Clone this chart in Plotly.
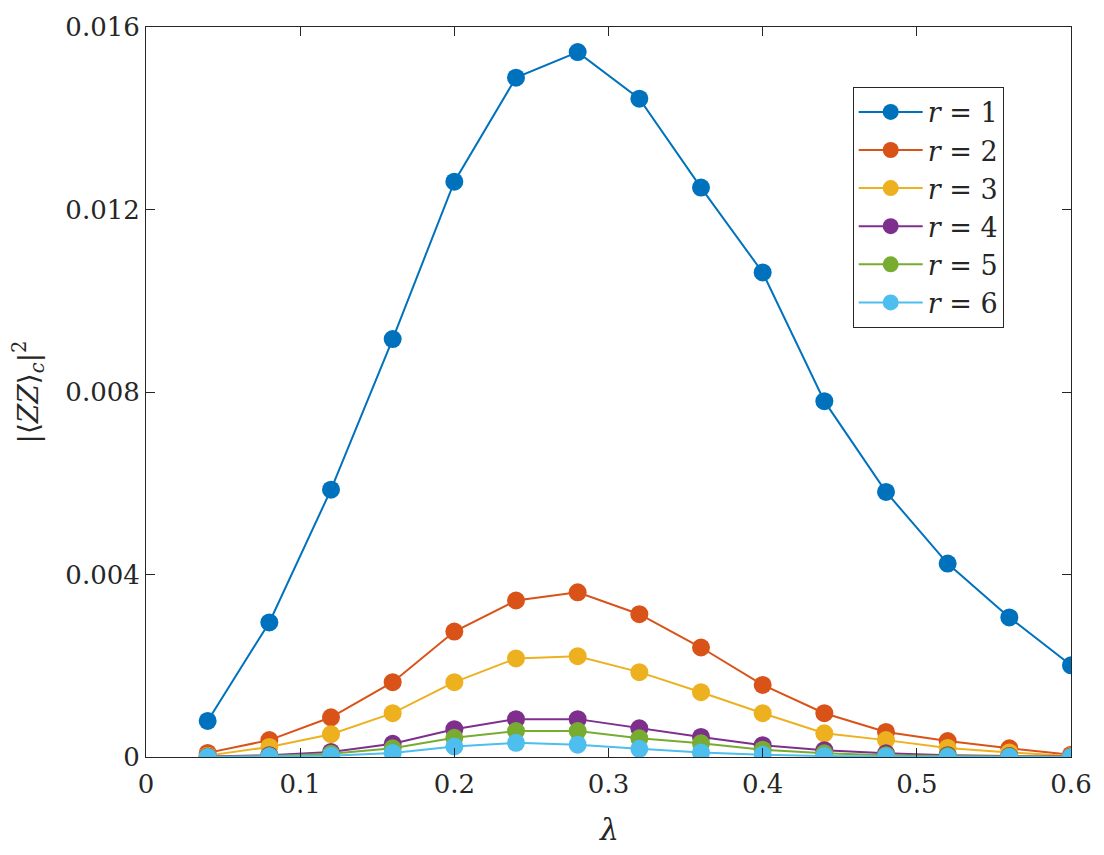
import plotly.graph_objects as go

lam = [0.04, 0.08, 0.12, 0.16, 0.20, 0.24, 0.28, 0.32, 0.36, 0.40, 0.44, 0.48, 0.52, 0.56, 0.60]

r1 = [0.00079, 0.00295, 0.00586, 0.00916, 0.01261, 0.01489, 0.01545, 0.01443, 0.01248, 0.01062, 0.00780, 0.00581, 0.00424, 0.00306, 0.00201]
r2 = [0.00009, 0.00037, 0.00087, 0.00164, 0.00275, 0.00343, 0.00361, 0.00313, 0.00240, 0.00158, 0.00096, 0.00055, 0.00035, 0.00019, 0.00005]
r3 = [0.00003, 0.00022, 0.00050, 0.00096, 0.00164, 0.00216, 0.00221, 0.00186, 0.00142, 0.00096, 0.00052, 0.00037, 0.00020, 0.00010, 0.00002]
r4 = [0.00001, 0.00004, 0.00011, 0.00029, 0.00061, 0.00083, 0.00083, 0.00063, 0.00044, 0.00026, 0.00015, 0.00008, 0.00004, 0.00002, 0.00001]
r5 = [0.00000, 0.00002, 0.00007, 0.00019, 0.00042, 0.00057, 0.00057, 0.00041, 0.00030, 0.00016, 0.00008, 0.00004, 0.00002, 0.00001, 0.00000]
r6 = [0.00000, 0.00001, 0.00003, 0.00009, 0.00023, 0.00031, 0.00027, 0.00018, 0.00010, 0.00005, 0.00002, 0.00001, 0.00000, 0.00000, 0.00000]

series = [r1, r2, r3, r4, r5, r6]
names = ["<i>r</i> = 1", "<i>r</i> = 2", "<i>r</i> = 3", "<i>r</i> = 4", "<i>r</i> = 5", "<i>r</i> = 6"]
colors = ["#0072BD", "#D95319", "#EDB120", "#7E2F8E", "#77AC30", "#4DBEEE"]

x_ticks = [0, 0.1, 0.2, 0.3, 0.4, 0.5, 0.6]
x_ticklabels = ["0", "0.1", "0.2", "0.3", "0.4", "0.5", "0.6"]
y_ticks = [0, 0.004, 0.008, 0.012, 0.016]
y_ticklabels = ["0", "0.004", "0.008", "0.012", "0.016"]

FONT = "DejaVu Serif"

fig = go.Figure()
for ys, nm, c in zip(series, names, colors):
    fig.add_trace(go.Scatter(
        x=lam, y=ys, name=nm, mode="lines+markers",
        line=dict(color=c, width=2),
        marker=dict(color=c, size=18, line=dict(width=0)),
    ))

axis_common = dict(
    showline=True, linecolor="#262626", linewidth=1,
    mirror="ticks", ticks="inside", ticklen=9, tickcolor="#262626", tickwidth=1,
    showgrid=False, zeroline=False,
    tickfont=dict(family=FONT, size=26, color="#262626"),
)

fig.update_layout(
    width=1104, height=855,
    margin=dict(l=146, r=27, t=25, b=98),
    paper_bgcolor="white", plot_bgcolor="white",
    font=dict(family=FONT, size=26, color="#262626"),
    showlegend=True,
    legend=dict(
        x=0.764, y=0.918, xanchor="left", yanchor="top",
        bgcolor="white", bordercolor="#262626", borderwidth=1,
        font=dict(family=FONT, size=27, color="#262626"),
        itemwidth=64, tracegroupgap=0,
    ),
    xaxis=dict(range=[0, 0.6], tickvals=x_ticks, ticktext=x_ticklabels,
               ticklabelstandoff=4,
               **axis_common),
    yaxis=dict(range=[0, 0.016], tickvals=y_ticks, ticktext=y_ticklabels,
               title=dict(text="|⟨<i>ZZ</i>⟩<sub><i>c</i></sub>|<sup>2</sup>", font=dict(family=FONT, size=28), standoff=18),
               **axis_common),
    annotations=[dict(
        text="<i>λ</i>", xref="paper", yref="paper", x=0.5, y=-0.099,
        xanchor="center", yanchor="middle", showarrow=False,
        font=dict(family=FONT, size=30, color="#262626"),
    )],
)

fig.write_html("out.html")
